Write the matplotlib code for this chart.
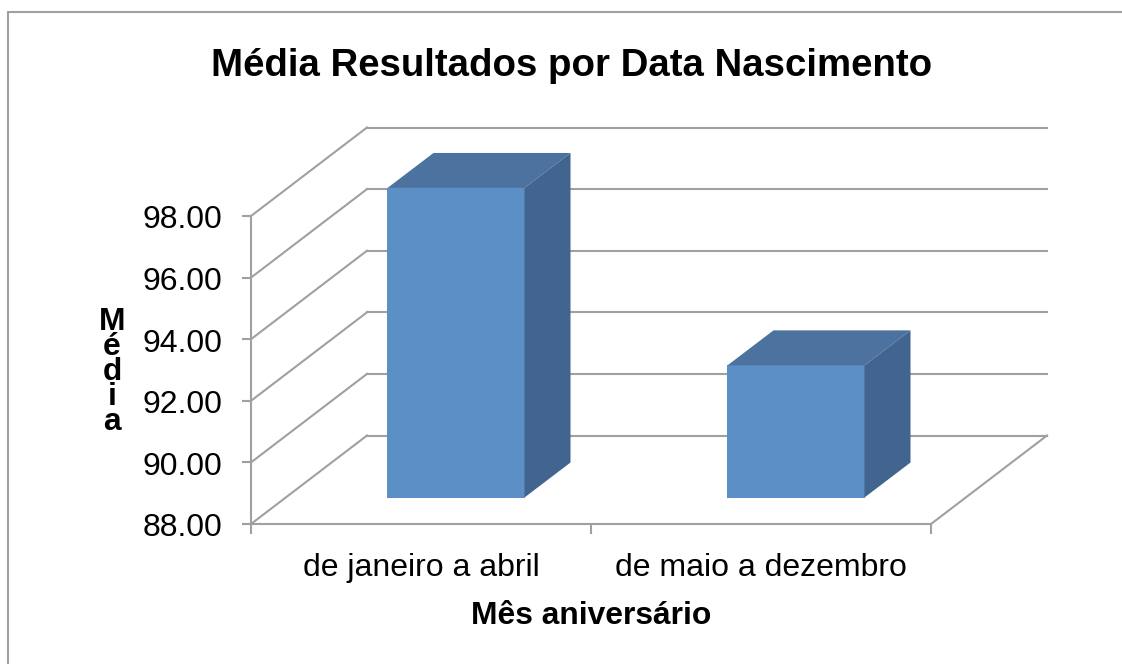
"""Média Resultados por Data Nascimento: Excel style 3D column chart."""

import matplotlib
matplotlib.use("Agg")
import matplotlib.pyplot as plt
from matplotlib.patches import Polygon, Rectangle
from matplotlib.transforms import Affine2D

categories = ["de janeiro a abril", "de maio a dezembro"]
values = [98.05, 92.29]
yticks = [88, 90, 92, 94, 96, 98]
ylabel_letters = ["M", "é", "d", "i", "a"]

W, H = 1122, 664
GRAY = "#a0a0a0"
FRONT, SIDE, TOP = "#5b8fc5", "#41658f", "#4c729f"
WALL_DX, WALL_DY = 116, 88.5    # depth of the 3D box, px
BAR_DX, BAR_DY = 46, 35         # depth of a column, px
GAP_DX, GAP_DY = 35, 26.5       # column offset from the front plane, px
BAR_W = 0.403

plt.rcParams["font.family"] = ["Liberation Sans", "DejaVu Sans"]

fig = plt.figure(figsize=(W / 100, H / 100), dpi=100)
x0, x1, y88, y98 = 251, 931, 524, 216
ax = fig.add_axes([x0 / W, 1 - y88 / H, (x1 - x0) / W, (y88 - y98) / H])
ax.set_xlim(0, 2)
ax.set_ylim(88, 98)
ax.patch.set_visible(False)
for s in ax.spines.values():
    s.set_visible(False)


def shifted(dx, dy):
    return ax.transData + Affine2D().translate(dx, dy)


# chart border, runs off the image to the right and bottom
fig.add_artist(Rectangle((8 / W, -0.1), 1.2, 1.1 - 11.5 / H, transform=fig.transFigure,
                         fill=False, ec=GRAY, lw=1.5))

# 3D box: back wall, left wall, floor
back = shifted(WALL_DX, WALL_DY)
for y in yticks:
    ax.plot([0, 2], [y, y], color=GRAY, lw=1.5, transform=back, clip_on=False, zorder=1)
    a = ax.transData.transform((0, y))
    ax.plot([a[0], a[0] + WALL_DX], [a[1], a[1] + WALL_DY], color=GRAY, lw=1.5,
            transform=None, clip_on=False, zorder=1)
a = ax.transData.transform((2, 88))
ax.plot([a[0], a[0] + WALL_DX], [a[1], a[1] + WALL_DY], color=GRAY, lw=1.5,
        transform=None, clip_on=False, zorder=1)
ax.plot([0, 2], [88, 88], color=GRAY, lw=1.5, clip_on=False, zorder=1)
ax.plot([0, 0], [88, 98], color=GRAY, lw=1.5, clip_on=False, zorder=1)

# columns
for i, v in enumerate(values):
    l, r = i + 0.5 - BAR_W / 2, i + 0.5 + BAR_W / 2
    fr = shifted(GAP_DX, GAP_DY)
    ax.add_patch(Rectangle((l, 88), r - l, v - 88, fc=FRONT, ec="none", transform=fr,
                           clip_on=False, zorder=3))
    p = [fr.transform(q) for q in [(l, v), (r, v), (r, 88)]]
    ox, oy = BAR_DX, BAR_DY
    ax.add_patch(Polygon([p[0], p[1], p[1] + (ox, oy), p[0] + (ox, oy)], fc=TOP, ec="none",
                         transform=None, clip_on=False, zorder=3))
    ax.add_patch(Polygon([p[1], p[2], p[2] + (ox, oy), p[1] + (ox, oy)], fc=SIDE, ec="none",
                         transform=None, clip_on=False, zorder=3))

ax.set_xticks([0, 1, 2])
ax.set_xticklabels([])
ax.set_yticks(yticks)
ax.set_yticklabels([f"{y:.2f}" for y in yticks], fontsize=23)
ax.tick_params(axis="both", color=GRAY, width=1.5, length=7)
ax.tick_params(axis="y", length=6.5, pad=14, labelcolor="black")
for lab in ax.get_yticklabels():
    lab.set_transform(lab.get_transform() + Affine2D().translate(0, -1))  # sits a bit low in the original
for i, c in enumerate(categories):
    ax.text(i + 0.5, 88, c, ha="center", va="baseline", fontsize=23,
            transform=shifted(0, -52))

fig.text(572 / W, 1 - 76 / H, "Média Resultados por Data Nascimento", ha="center",
         va="baseline", fontsize=27.6, fontweight="bold")
fig.text(591.5 / W, 1 - 624 / H, "Mês aniversário", ha="center", va="baseline", fontsize=22.9,
         fontweight="bold")
fig.text(112 / W, 1 - 372 / H, "\n".join(ylabel_letters), ha="center", va="center",
         fontsize=22.9, fontweight="bold", linespacing=0.775)

fig.savefig("out.png", dpi=100)
